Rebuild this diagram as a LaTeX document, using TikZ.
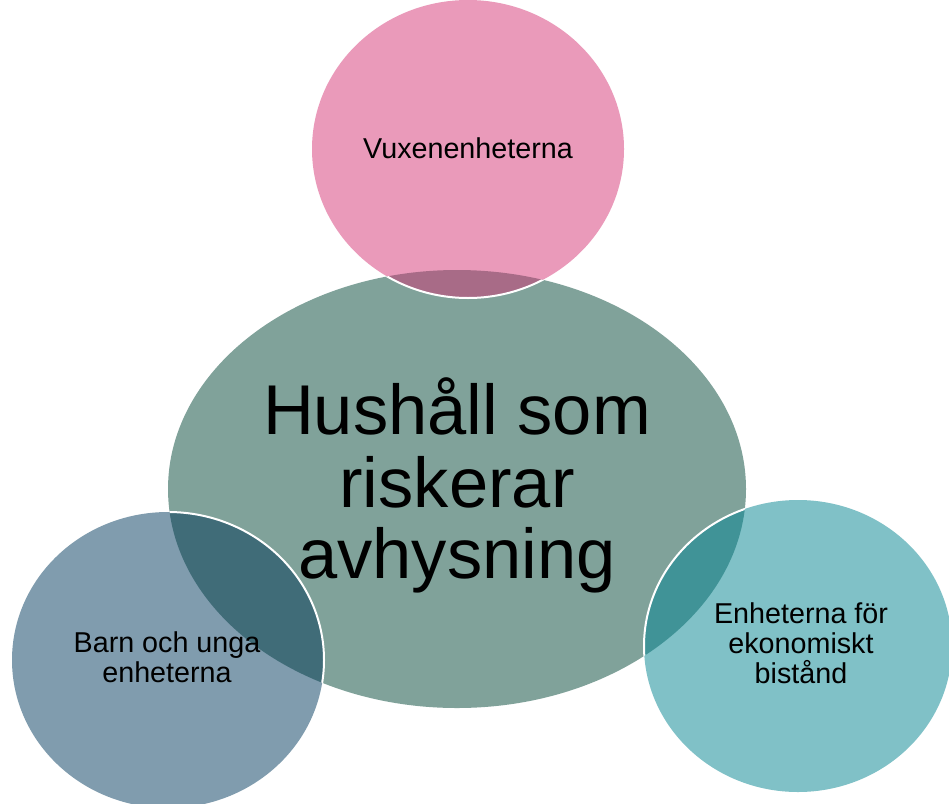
\documentclass[tikz,border=0pt]{standalone}
\usepackage{fontspec}
\setmainfont{Liberation Sans}
\usetikzlibrary{shapes.geometric}
\definecolor{cmid}{HTML}{80A29A}
\definecolor{cpink}{HTML}{EA9ABA}
\definecolor{cbl}{HTML}{809CAE}
\definecolor{cright}{HTML}{80C1C7}
\definecolor{opink}{HTML}{A86B87}
\definecolor{obl}{HTML}{406C78}
\definecolor{oright}{HTML}{409397}
\tikzset{
  bigtxt/.style={anchor=base,inner sep=0pt,font=\fontsize{70.5}{71}\selectfont},
  smalltxt/.style={anchor=base,inner sep=0pt,font=\fontsize{28.7}{30}\selectfont},
  ring/.style={draw=white,line width=2pt}
}
\begin{document}
\begin{tikzpicture}[x=1pt,y=-1pt]
\useasboundingbox (0,0) rectangle (949,803);
\fill[white] (0,0) rectangle (949,803);
% main ellipse
\fill[cmid] (457,489) ellipse [x radius=289, y radius=219];
% outer circles
\fill[cpink] (468,149) ellipse [x radius=156, y radius=149];
\fill[cbl] (168,660) ellipse [x radius=156, y radius=148];
\fill[cright] (798,646) ellipse [x radius=154, y radius=146];
% overlaps
\begin{scope}
  \clip (457,489) ellipse [x radius=289, y radius=219];
  \fill[opink] (468,149) ellipse [x radius=156, y radius=149];
  \fill[obl] (168,660) ellipse [x radius=156, y radius=148];
  \fill[oright] (798,646) ellipse [x radius=154, y radius=146];
\end{scope}
% white outlines (visible over the main ellipse)
\begin{scope}
  \clip (457,489) ellipse [x radius=289, y radius=219];
  \draw[ring] (468,149) ellipse [x radius=156, y radius=149];
  \draw[ring] (168,660) ellipse [x radius=156, y radius=148];
  \draw[ring] (798,646) ellipse [x radius=154, y radius=146];
\end{scope}
% texts
\node[bigtxt] (c1) at (457,434) {Hushåll som};
\node[bigtxt] (c2) at (457,507) {riskerar};
\node[bigtxt] (c3) at (457,578) {avhysning};
\node[smalltxt] (t1) at (468,158) {Vuxenenheterna};
\node[smalltxt] (b1) at (167,652) {Barn och unga};
\node[smalltxt] (b2) at (167,682) {enheterna};
\node[smalltxt] (r1) at (801,623) {Enheterna för};
\node[smalltxt] (r2) at (801,653) {ekonomiskt};
\node[smalltxt] (r3) at (801,683) {bistånd};
\end{tikzpicture}
\end{document}
